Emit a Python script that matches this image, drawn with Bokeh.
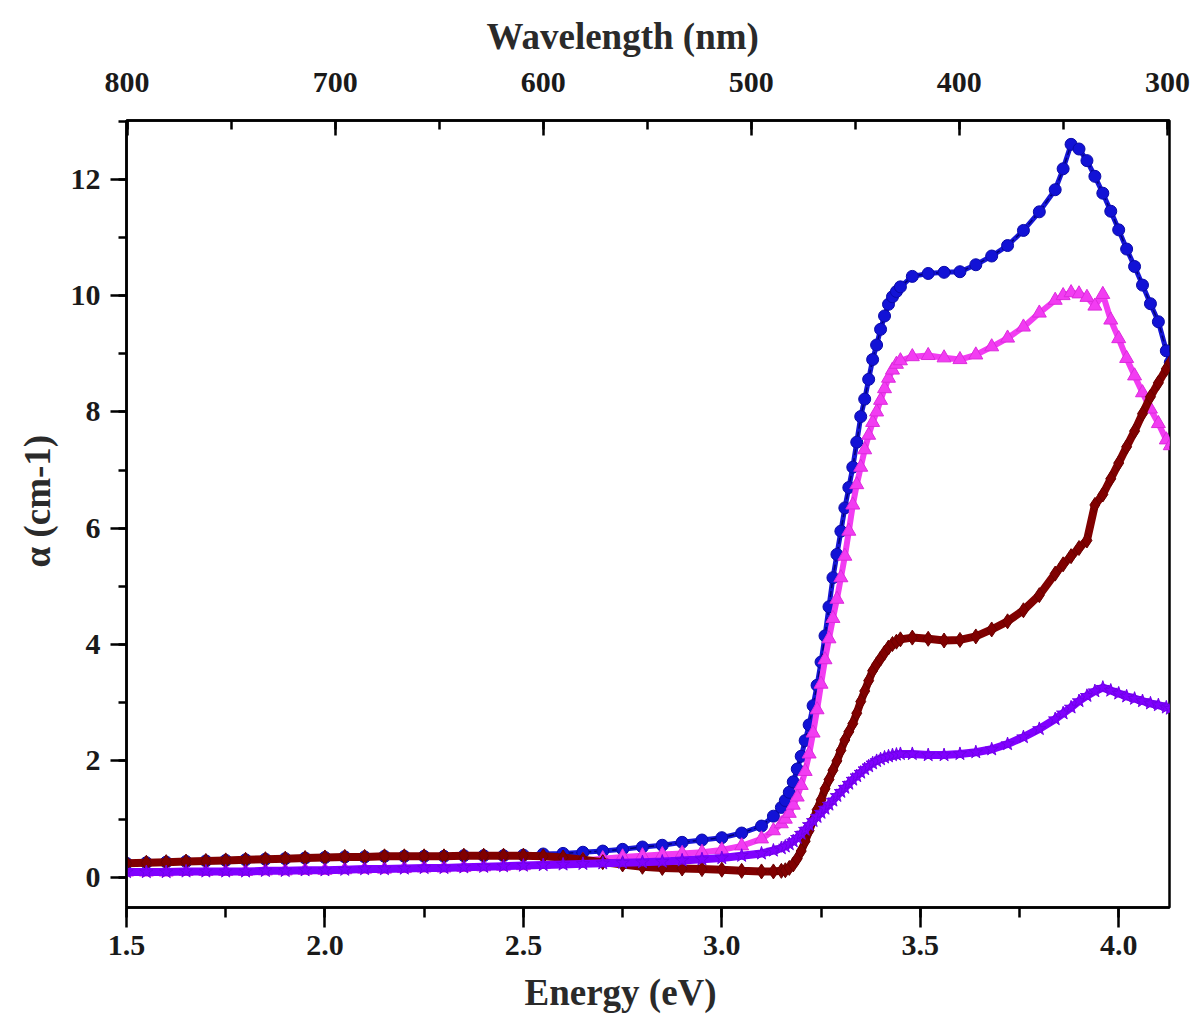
from bokeh.plotting import figure
from bokeh.models import (LinearAxis, Range1d, SingleIntervalTicker,
                          PrintfTickFormatter, Title)
from bokeh.embed import file_html
from bokeh.resources import INLINE

# photon energy (eV) of each sample point
energy = [1.50, 1.55, 1.60, 1.65, 1.70, 1.75, 1.80, 1.85, 1.90, 1.95,
          2.00, 2.05, 2.10, 2.15, 2.20, 2.25, 2.30, 2.35, 2.40, 2.45,
          2.50, 2.55, 2.60, 2.65, 2.70, 2.75, 2.80, 2.85, 2.90, 2.95,
          3.00, 3.05, 3.10, 3.13,
          3.15, 3.16, 3.17, 3.18, 3.19, 3.20, 3.21, 3.22, 3.23, 3.24,
          3.25, 3.26, 3.27, 3.28, 3.29, 3.30, 3.31, 3.32, 3.33, 3.34,
          3.35, 3.36, 3.37, 3.38, 3.39, 3.40, 3.41, 3.42, 3.43, 3.44, 3.45,
          3.48, 3.52, 3.56, 3.60, 3.64, 3.68, 3.72, 3.76, 3.80, 3.84,
          3.86, 3.88, 3.90, 3.92, 3.94, 3.96, 3.98, 4.00, 4.02, 4.04,
          4.06, 4.08, 4.10, 4.12, 4.13]

# absorption coefficient of the four samples
alpha_blue = [0.24, 0.25, 0.26, 0.27, 0.28, 0.29, 0.30, 0.31, 0.32, 0.33,
              0.34, 0.35, 0.35, 0.36, 0.36, 0.36, 0.36, 0.37, 0.37, 0.37,
              0.38, 0.40, 0.41, 0.43, 0.45, 0.48, 0.52, 0.55, 0.60, 0.64,
              0.68, 0.76, 0.88, 1.05,
              1.20, 1.32, 1.46, 1.64, 1.86, 2.08, 2.35, 2.62, 2.95, 3.30,
              3.70, 4.15, 4.65, 5.15, 5.55, 5.95, 6.35, 6.70, 7.05, 7.48,
              7.92, 8.22, 8.56, 8.90, 9.15, 9.42, 9.65, 9.85, 9.98, 10.07, 10.15,
              10.33, 10.38, 10.40, 10.41, 10.53, 10.68, 10.86, 11.12, 11.44, 11.82,
              12.18, 12.60, 12.52, 12.32, 12.05, 11.76, 11.45, 11.13, 10.80, 10.50,
              10.18, 9.86, 9.55, 9.05, 8.85]

alpha_pink = [0.09, 0.09, 0.09, 0.10, 0.10, 0.10, 0.10, 0.11, 0.11, 0.12,
              0.12, 0.13, 0.14, 0.14, 0.15, 0.16, 0.16, 0.17, 0.18, 0.19,
              0.20, 0.22, 0.25, 0.29, 0.32, 0.35, 0.37, 0.39, 0.41, 0.43,
              0.47, 0.54, 0.66, 0.80,
              0.92, 1.00, 1.10, 1.24, 1.38, 1.58, 1.82, 2.12, 2.48, 2.88,
              3.32, 3.74, 4.10, 4.45, 4.78, 5.15, 5.52, 5.95, 6.40, 6.75,
              7.05, 7.35, 7.60, 7.82, 8.00, 8.20, 8.40, 8.58, 8.72, 8.82, 8.88,
              8.95, 8.97, 8.93, 8.90, 8.98, 9.12, 9.27, 9.46, 9.70, 9.92,
              10.00, 10.05, 10.03, 9.97, 9.82, 10.02, 9.58, 9.26, 8.92, 8.62,
              8.33, 8.05, 7.80, 7.52, 7.42]

alpha_red = [0.24, 0.25, 0.26, 0.27, 0.28, 0.29, 0.30, 0.31, 0.32, 0.33,
             0.34, 0.35, 0.35, 0.36, 0.36, 0.36, 0.36, 0.37, 0.37, 0.37,
             0.37, 0.36, 0.34, 0.30, 0.26, 0.22, 0.18, 0.16, 0.15, 0.14,
             0.13, 0.11, 0.10, 0.10,
             0.11, 0.12, 0.16, 0.22, 0.32, 0.45, 0.62, 0.80, 0.98, 1.16,
             1.33, 1.52, 1.68, 1.84, 2.00, 2.18, 2.36, 2.50, 2.64, 2.82,
             3.02, 3.20, 3.38, 3.55, 3.66, 3.76, 3.86, 3.95, 4.01, 4.05, 4.09,
             4.12, 4.10, 4.07, 4.08, 4.14, 4.26, 4.40, 4.59, 4.85, 5.22,
             5.38, 5.52, 5.66, 5.79, 6.40, 6.58, 6.85, 7.12, 7.40, 7.67,
             7.97, 8.26, 8.50, 8.74, 8.85]

alpha_violet = [0.09, 0.09, 0.09, 0.10, 0.10, 0.10, 0.10, 0.11, 0.11, 0.12,
                0.12, 0.13, 0.14, 0.14, 0.15, 0.16, 0.16, 0.17, 0.18, 0.19,
                0.20, 0.21, 0.22, 0.23, 0.24, 0.25, 0.26, 0.27, 0.29, 0.31,
                0.33, 0.37, 0.41, 0.46,
                0.50, 0.53, 0.57, 0.62, 0.68, 0.75, 0.82, 0.90, 0.97, 1.04,
                1.11, 1.18, 1.25, 1.32, 1.40, 1.47, 1.54, 1.61, 1.68, 1.74,
                1.80, 1.86, 1.91, 1.96, 2.00, 2.03, 2.06, 2.08, 2.10, 2.11, 2.12,
                2.12, 2.10, 2.10, 2.12, 2.15, 2.20, 2.29, 2.41, 2.55, 2.72,
                2.82, 2.92, 3.03, 3.12, 3.20, 3.26, 3.21, 3.16, 3.11, 3.07,
                3.03, 2.99, 2.96, 2.92, 2.90]

FONT = "Liberation Serif"
TITLE_COLOR = "#2a2a2a"

p = figure(width=1196, height=1024, output_backend="svg", toolbar_location=None,
           x_range=Range1d(1.5, 4.128), y_range=Range1d(-0.52, 13.01),
           min_border_left=126, min_border_right=27,
           min_border_top=120, min_border_bottom=117,
           background_fill_color="white", border_fill_color="white")
p.xgrid.visible = False
p.ygrid.visible = False
p.outline_line_color = "black"
p.outline_line_width = 2.5
p.outline_line_alpha = 1.0

# series: blue circles, magenta triangles, dark-red diamonds, violet stars
p.line(energy, alpha_blue, line_color="#1616d6", line_width=5)
p.line(energy, alpha_blue, line_color="#00007a", line_width=1.5, line_dash="6 3")
p.scatter(energy, alpha_blue, marker="circle", size=12,
          fill_color="#1212d6", line_color="#0a0aa8", line_width=1)

p.line(energy, alpha_pink, line_color="#f23cf2", line_width=6)
p.scatter(energy, alpha_pink, marker="triangle", size=14,
          fill_color="#f23cf2", line_color="#dc2adc", line_width=1)

p.line(energy, alpha_red, line_color="#800000", line_width=8)
p.scatter(energy, alpha_red, marker="diamond", size=15,
          fill_color="#800000", line_color="#6a0000", line_width=1)

p.line(energy, alpha_violet, line_color="#8000ff", line_width=8)
p.scatter(energy, alpha_violet, marker="star", size=14,
          fill_color="#8000ff", line_color="#7000e8", line_width=1)


def style_axis(ax):
    ax.axis_line_color = "black"
    ax.axis_line_width = 2.5
    ax.major_tick_line_color = "black"
    ax.major_tick_line_width = 2.5
    ax.minor_tick_line_color = "black"
    ax.minor_tick_line_width = 2.5
    ax.major_label_text_font = FONT
    ax.major_label_text_font_style = "bold"
    ax.major_label_text_font_size = "30px"
    ax.major_label_text_color = "#1a1a1a"


# bottom: energy
xa = p.xaxis[0]
style_axis(xa)
xa.ticker = SingleIntervalTicker(interval=0.5, num_minor_ticks=2)
xa.formatter = PrintfTickFormatter(format="%.1f")
xa.major_tick_out = 20
xa.major_tick_in = 0
xa.minor_tick_out = 10
xa.minor_tick_in = 0
xa.major_label_standoff = 8

# left: absorption coefficient
ya = p.yaxis[0]
style_axis(ya)
ya.ticker = SingleIntervalTicker(interval=2, num_minor_ticks=2)
ya.major_tick_out = 16
ya.major_tick_in = 0
ya.minor_tick_out = 8
ya.minor_tick_in = 0
ya.major_label_standoff = 10

# top: wavelength
p.extra_x_ranges = {"wl": Range1d(800.3, 299.0)}
ta = LinearAxis(x_range_name="wl")
style_axis(ta)
ta.ticker = SingleIntervalTicker(interval=100, num_minor_ticks=2)
ta.major_tick_out = 0
ta.major_tick_in = 15
ta.minor_tick_out = 0
ta.minor_tick_in = 9
ta.major_label_standoff = 29
p.add_layout(ta, "above")

# axis titles, placed as side titles so they can be nudged along the frame
title_kw = dict(text_font=FONT, text_font_style="bold", text_font_size="37px",
                text_color=TITLE_COLOR, align="left")
p.add_layout(Title(text="Wavelength (nm)", offset=360, standoff=26, **title_kw),
             "above")
p.add_layout(Title(text="Energy (eV)", offset=398, standoff=24, **title_kw),
             "below")
p.add_layout(Title(text="α (cm-1)", offset=340, standoff=20, **title_kw), "left")

open("out.html", "w").write(file_html(p, INLINE))
